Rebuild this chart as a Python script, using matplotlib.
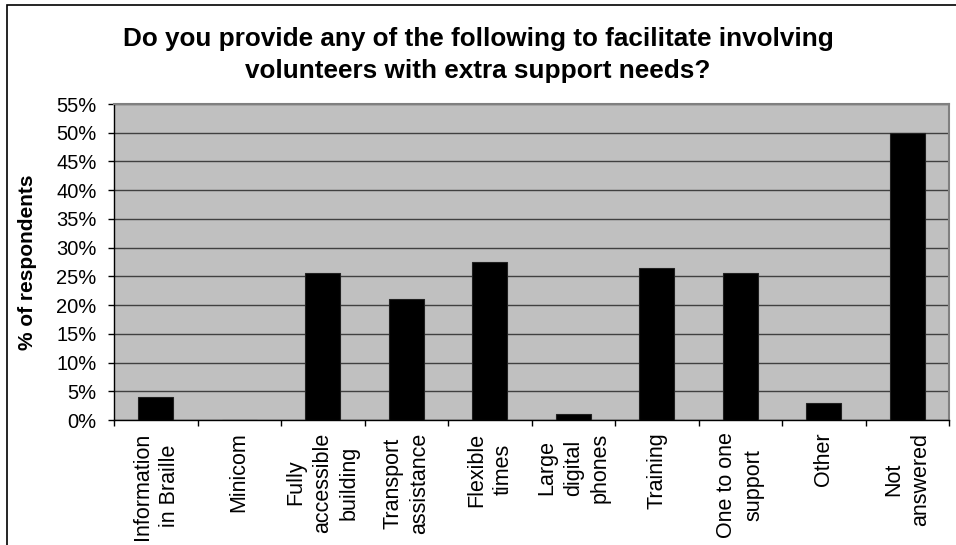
import matplotlib.pyplot as plt
from matplotlib.patches import Rectangle
from matplotlib.ticker import FuncFormatter, MultipleLocator
import numpy as np

plt.rcParams['font.family'] = ['Liberation Sans', 'DejaVu Sans']

# survey answers (% of respondents)
options = ["Information\nin Braille", "Minicom", "Fully\naccessible\nbuilding",
           "Transport\nassistance", "Flexible\ntimes", "Large\ndigital\nphones",
           "Training", "One to one\nsupport", "Other", "Not\nanswered"]
percent = [4, 0, 25.5, 21, 27.5, 1, 26.5, 25.5, 3, 50]

fig = plt.figure(figsize=(9.56, 5.45), dpi=100)
fig.patch.set_facecolor('white')

# outer chart frame
fig.patches.append(Rectangle((7 / 956, -0.05), 1.1, 1.05 - 5 / 545,
                             transform=fig.transFigure, fill=False,
                             edgecolor='black', linewidth=1.2))

ax = fig.add_axes([114 / 956, 1 - 420 / 545, (949 - 114) / 956, (420 - 104) / 545])
ax.set_facecolor('#c0c0c0')

x = np.arange(len(options))
ax.bar(x, percent, width=0.42, color='black', edgecolor='#202020', linewidth=0.8, zorder=3)

ax.set_xlim(-0.5, len(options) - 0.5)
ax.set_ylim(0, 55)
ax.yaxis.set_major_locator(MultipleLocator(5))
ax.yaxis.set_major_formatter(FuncFormatter(lambda v, p: f"{v:.0f}%"))
ax.grid(axis='y', color='#404040', linewidth=1, zorder=1)
ax.set_axisbelow(True)

# category labels at centres, tick marks at boundaries
ax.set_xticks(x)
ax.set_xticklabels(options, rotation=90, va='top', ha='center',
                   multialignment='center', linespacing=1.35, fontsize=15.5)
ax.tick_params(axis='x', which='major', length=0, pad=9)
ax.set_xticks(np.arange(len(options) + 1) - 0.5, minor=True)
ax.tick_params(axis='x', which='minor', length=4.5, width=1, direction='out', color='black')
ax.tick_params(axis='y', length=4.5, width=1, direction='out', labelsize=14.5, pad=8)

for side in ('top', 'right'):
    ax.spines[side].set_color('#808080')
    ax.spines[side].set_linewidth(1.5)
for side in ('left', 'bottom'):
    ax.spines[side].set_color('black')
    ax.spines[side].set_linewidth(1)

ax.set_ylabel('% of respondents', fontsize=15, fontweight='bold', labelpad=14)

fig.text(0.5, 1 - 55 / 545,
         'Do you provide any of the following to facilitate involving\n'
         'volunteers with extra support needs?',
         ha='center', va='center', fontsize=18.8, fontweight='bold', linespacing=1.4)

fig.savefig('out.png', dpi=100)
